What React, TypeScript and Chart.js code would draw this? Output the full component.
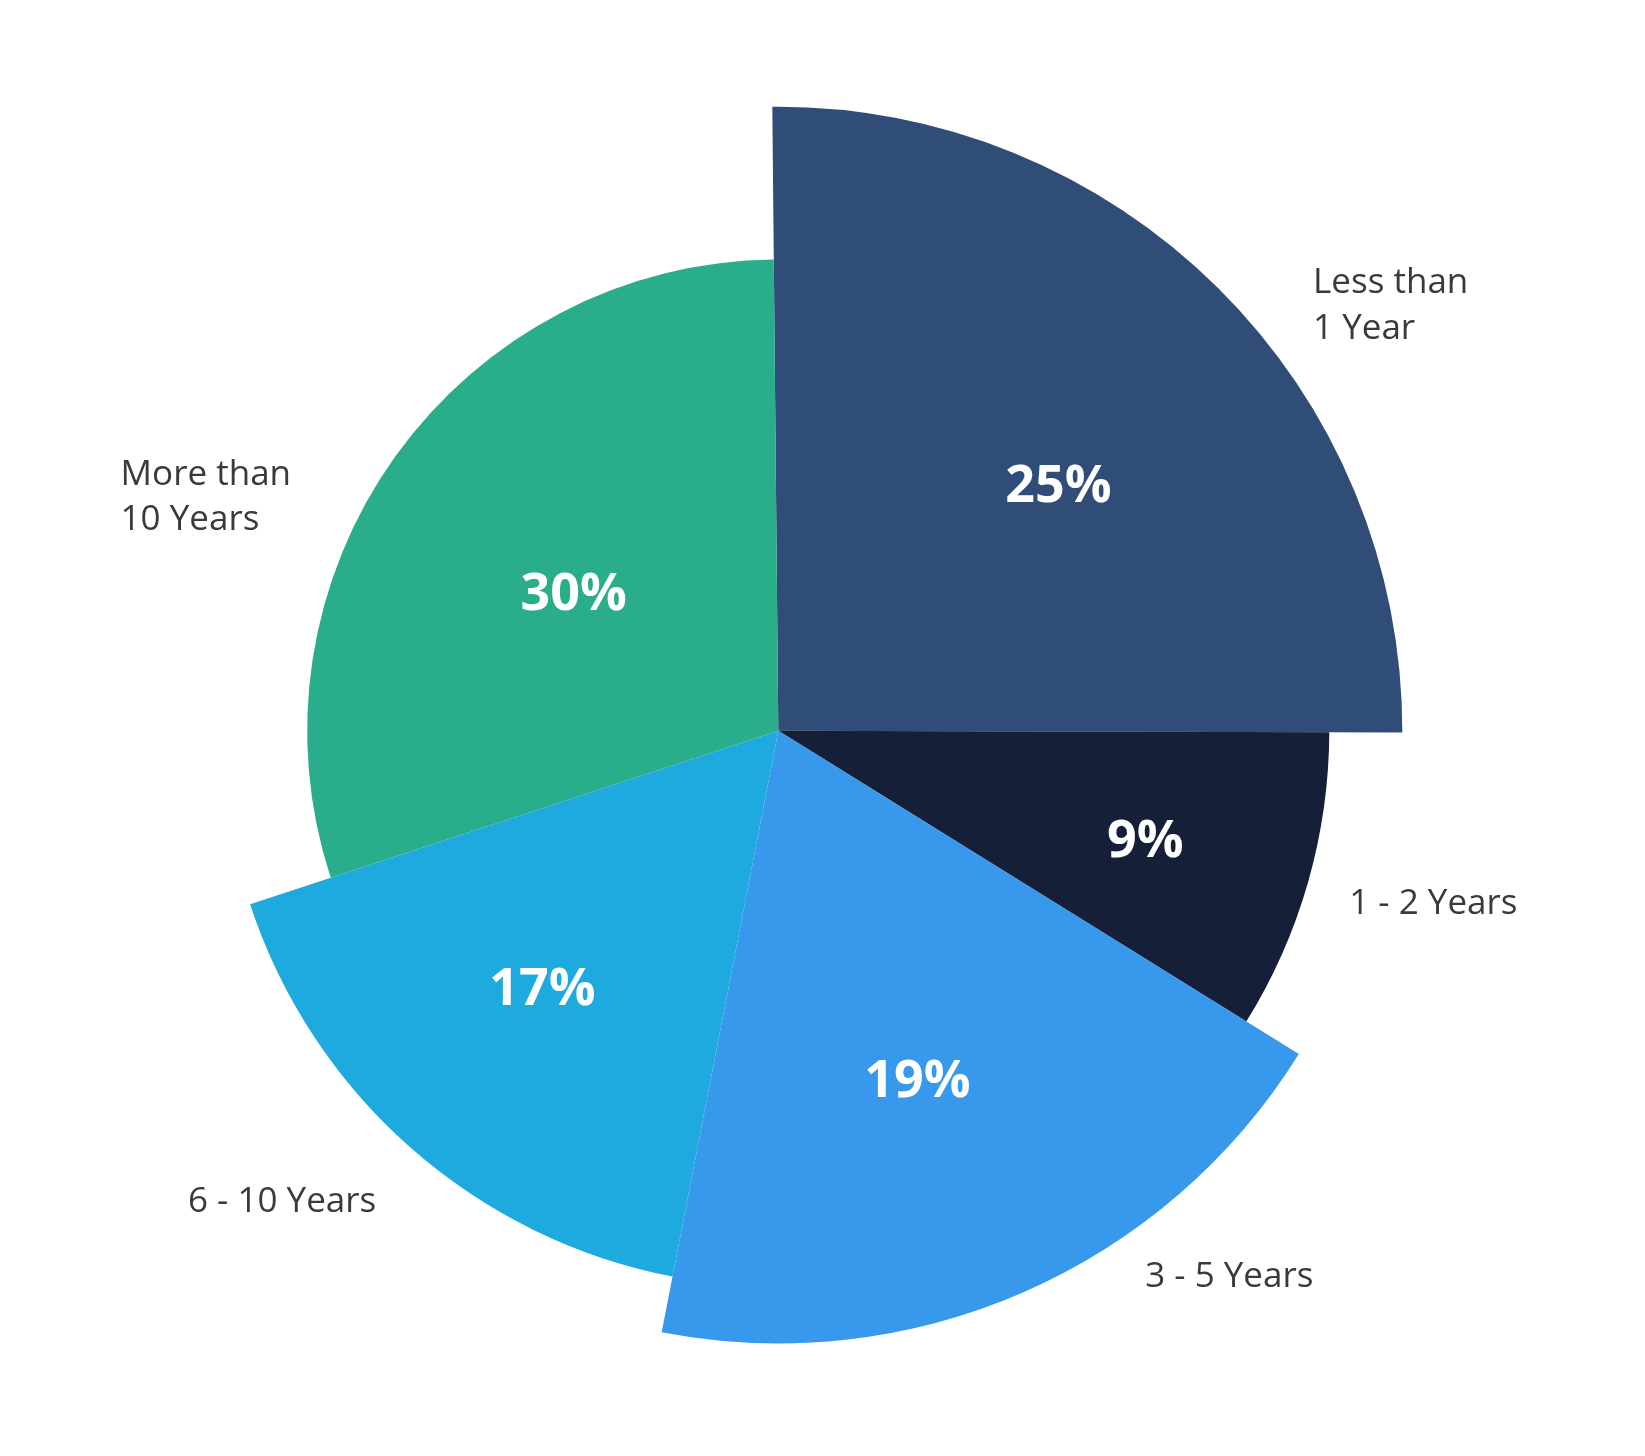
import React, { useEffect, useRef } from "react";
import { Chart, registerables } from "chart.js";

Chart.register(...registerables);

// ---- data ----
const categories = ["Less than\n1 Year", "1 - 2 Years", "3 - 5 Years", "6 - 10 Years", "More than\n10 Years"];
// slice sizes
const shares = [25.2, 8.8, 19.2, 16.9, 29.9];
// printed percentages
const shareLabels = ["25%", "9%", "19%", "17%", "30%"];
// relative outer radius of each slice (% of the largest)
const radiusIndex = [100, 88.3, 98.2, 89.1, 75.5];
const sliceColors = ["#304D78", "#151F38", "#3899EC", "#1EAADF", "#29AD8A"];

// ---- label placement (in units of the largest radius, relative to centre) ----
const outerLabelAnchors = [
  { dx: 0.857, dy: -0.701 },
  { dx: 0.915, dy: 0.293 },
  { dx: 0.588, dy: 0.892 },
  { dx: -0.946, dy: 0.771 },
  { dx: -1.054, dy: -0.394 },
];
const innerLabelAnchors = [
  { dx: 0.449, dy: -0.367 },
  { dx: 0.588, dy: 0.202 },
  { dx: 0.223, dy: 0.587 },
  { dx: -0.378, dy: 0.44 },
  { dx: -0.328, dy: -0.193 },
];

const FONT = "'Open Sans', Lato, sans-serif";

const variableRadiusPlugin = {
  id: "variableRadius",
  afterDatasetsUpdate(chart: any) {
    const meta = chart.getDatasetMeta(0);
    const base = meta.controller.outerRadius;
    meta.data.forEach((arc: any, i: number) => {
      arc.outerRadius = (base * radiusIndex[i]) / 100;
    });
  },
};

const labelPlugin = {
  id: "sliceLabels",
  afterDatasetsDraw(chart: any) {
    const meta = chart.getDatasetMeta(0);
    const base = meta.controller.outerRadius;
    const ctx = chart.ctx;
    meta.data.forEach((arc: any, i: number) => {
      const cx = arc.x;
      const cy = arc.y;
      const ia = innerLabelAnchors[i];
      ctx.save();
      ctx.fillStyle = "#ffffff";
      ctx.font = `700 52px ${FONT}`;
      ctx.textAlign = "center";
      ctx.textBaseline = "alphabetic";
      ctx.fillText(shareLabels[i], cx + ia.dx * base, cy + ia.dy * base);
      const oa = outerLabelAnchors[i];
      ctx.fillStyle = "#3a3a3a";
      ctx.font = `35px ${FONT}`;
      ctx.textAlign = "left";
      const lines = categories[i].split("\n");
      lines.forEach((ln, k) => {
        ctx.fillText(ln, cx + oa.dx * base, cy + oa.dy * base + k * 45.5);
      });
      ctx.restore();
    });
  },
};

export default function App() {
  const ref = useRef<HTMLCanvasElement | null>(null);
  useEffect(() => {
    document.body.style.margin = "0";
    const canvas = ref.current!;
    const chart = new Chart(canvas, {
      type: "pie",
      data: {
        labels: categories,
        datasets: [
          {
            data: shares,
            backgroundColor: sliceColors,
            borderWidth: 0,
          },
        ],
      },
      options: {
        responsive: false,
        animation: false,
        events: [],
        rotation: -0.55,
        layout: { padding: { left: 154.3, right: 242.7, top: 106.7, bottom: 101.3 } },
        plugins: {
          legend: { display: false },
          tooltip: { enabled: false },
        },
      },
      plugins: [variableRadiusPlugin, labelPlugin],
    });
    return () => chart.destroy();
  }, []);
  return (
    <div style={{ position: "absolute", left: 0, top: 0, width: 1645, height: 1456, background: "#fff" }}>
      <canvas ref={ref} width={1645} height={1456} style={{ width: 1645, height: 1456 }} />
    </div>
  );
}
